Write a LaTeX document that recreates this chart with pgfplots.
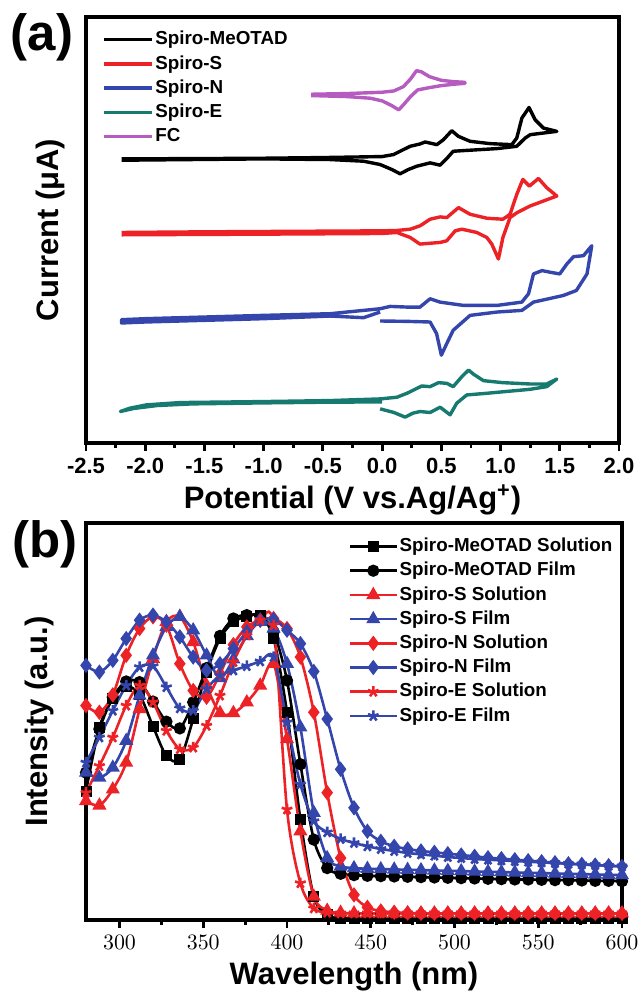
\documentclass[border=0pt]{standalone}
\usepackage{fontspec}
\setmainfont{Liberation Sans}
\usepackage{pgfplots}
\usepackage{pgfplotstable}
\pgfplotsset{compat=1.18}
\usetikzlibrary{plotmarks}

\definecolor{cvred}{RGB}{236,34,38}
\definecolor{cvblue}{RGB}{52,70,172}
\definecolor{cvteal}{RGB}{22,122,112}
\definecolor{cvpurple}{RGB}{182,92,192}

% absorption / PL spectra, arbitrary intensity units
\pgfplotstableread{
nm  msol mfilm ssol sfilm nsol nfilm esol efilm
280 385 440 355 440 640 760 380 470
288 575 570 342 425 620 740 460 545
296 660 665 390 455 672 775 545 625
304 698 712 470 535 790 840 640 700
312 672 710 630 670 870 895 700 755
320 578 652 780 790 905 910 650 758
328 490 592 890 875 880 890 565 695
336 480 572 905 905 765 845 510 632
344 600 650 830 865 685 785 515 625
352 740 752 700 790 665 745 580 690
360 840 848 618 722 735 765 670 730
368 890 900 618 778 822 810 770 745
376 905 910 650 848 875 860 850 758
384 910 907 700 890 895 895 895 772
392 840 860 765 870 900 897 880 785
400 620 715 540 765 870 865 330 590
408 300 465 265 575 785 825 110 405
416 70 240 70 320 620 742 35 295
424 15 155 28 185 380 600 22 262
432 6 138 22 160 185 450 20 242
440 4 134 20 155 75 335 20 230
448 4 132 20 153 38 265 20 220
456 4 131 20 152 27 235 20 212
464 4 130 20 151 23 220 20 206
472 4 129 20 150 21 212 20 200
480 4 128 20 149 20 206 20 196
488 4 127 20 148 20 202 20 192
496 4 126 20 147 20 198 20 188
504 4 125 20 146 20 194 20 185
512 4 124 20 145 20 190 20 182
520 4 123 20 144 20 186 20 180
528 4 122 20 143 20 183 20 178
536 4 121 20 142 20 180 20 176
544 4 121 20 141 20 177 20 174
552 4 120 20 140 20 174 20 172
560 4 119 20 139 20 171 20 170
568 4 119 20 138 20 168 20 168
576 4 118 20 137 20 166 20 166
584 4 117 20 136 20 164 20 164
592 4 117 20 135 20 162 20 162
600 4 116 20 134 20 160 20 160
}\spectra

\pgfplotsset{
  panel/.style={
    scale only axis,
    axis lines=box,
    axis line style={line width=2pt, black},
    tick align=outside,
    xtick pos=left,
    ytick=\empty,
    minor x tick num=1,
    major tick length=4pt,
    minor tick length=2.5pt,
    every tick/.style={black, line width=1.4pt},
    tick label style={font=\fontsize{11}{11}\selectfont\bfseries},
    label style={font=\fontsize{15.5}{15.5}\selectfont\bfseries},
    legend cell align=left,
    legend style={draw=none, fill=none, inner sep=0pt, row sep=1.7pt,
      font=\fontsize{9.4}{9.4}\selectfont\bfseries,
      nodes={inner sep=0.8pt, text height=7pt, text depth=1.8pt}},
  },
}

\begin{document}
\begin{tikzpicture}
\useasboundingbox (0pt,0pt) rectangle (320pt,-497pt);
\node[font=\fontsize{25.5}{25.5}\selectfont\bfseries] at (21pt,-18.5pt) {(a)};
\node[font=\fontsize{25.5}{25.5}\selectfont\bfseries] at (22.5pt,-272pt) {(b)};

\begin{axis}[panel,
  at={(43pt,-221.5pt)}, anchor=south west,
  width=266.5pt, height=213pt,
  xmin=-2.5, xmax=2.0, ymin=0, ymax=1285,
  xtick={-2.5,-2,-1.5,-1,-0.5,0,0.5,1,1.5,2},
  xticklabels={-2.5,-2.0,-1.5,-1.0,-0.5,0.0,0.5,1.0,1.5,2.0},
  xlabel={Potential (V vs.Ag/Ag\textsuperscript{+})},
  ylabel={Current (μA)},
  xlabel style={at={(axis description cs:0.5,-0.134)}, anchor=center},
  ylabel style={at={(axis description cs:-0.066,0.5)}, anchor=center},
  legend style={at={(axis description cs:0.030,0.972)}, anchor=north west},
  legend image code/.code={\draw[#1] (0pt,0pt) -- (24pt,0pt);},
  every axis plot/.append style={line width=1.7pt, line join=round},
]
\addplot[black] coordinates {
(-2.2,857) (-1.5,858) (-1.0,859) (-0.5,861) (0.0,864) (0.096,870) (0.152,880)
(0.237,895) (0.32,902) (0.363,908) (0.462,900) (0.518,915) (0.588,942) (0.644,925)
(0.743,910) (0.912,903) (1.095,900) (1.137,920) (1.18,980) (1.24,1012) (1.292,975)
(1.362,950) (1.475,940) (1.25,930) (1.208,920) (1.137,895) (0.969,888) (0.687,882)
(0.60,880) (0.546,858) (0.49,838) (0.405,845) (0.293,835) (0.222,825) (0.152,812)
(0.082,825) (-0.017,840) (-0.157,850) (-0.44,855) (-1.0,857) (-2.2,853)};
\addlegendentry{Spiro-MeOTAD}
\addplot[cvred] coordinates {
(-2.2,635) (-1.5,637) (-1.0,638) (-0.5,639) (0.0,640) (0.124,641) (0.237,645)
(0.32,655) (0.405,675) (0.49,682) (0.546,680) (0.645,710) (0.743,690) (0.884,678)
(1.02,675) (1.08,690) (1.137,750) (1.188,795) (1.244,775) (1.32,798) (1.39,770)
(1.475,745) (1.25,715) (1.14,695) (1.08,680) (1.02,620) (0.982,555) (0.926,600)
(0.884,620) (0.80,635) (0.673,645) (0.617,640) (0.546,610) (0.49,605) (0.32,600)
(0.237,620) (0.124,635) (0.0,632) (-0.5,631) (-1.0,630) (-2.2,628)};
\addlegendentry{Spiro-S}
\addplot[cvblue] coordinates {
(-0.017,368) (0.2,367) (0.405,365) (0.46,330) (0.50,265) (0.546,300) (0.60,340)
(0.743,385) (0.969,395) (1.18,400) (1.278,425) (1.53,445) (1.64,460) (1.73,510)
(1.77,595) (1.70,565) (1.616,562) (1.56,540) (1.50,510) (1.42,515) (1.35,520)
(1.278,510) (1.236,450) (1.18,425) (0.969,415) (0.687,415) (0.49,425) (0.405,435)
(0.32,410) (0.21,410) (0.068,412) (-0.017,405) (-0.157,400) (-0.44,390) (-1.0,385)
(-1.5,380) (-2.0,375) (-2.2,372) (-2.2,362) (-2.0,365) (-1.5,370) (-1.0,375)
(-0.44,383) (-0.157,378) (-0.017,395)};
\addlegendentry{Spiro-N}
\addplot[cvteal] coordinates {
(-0.017,103) (0.1,92) (0.194,78) (0.26,90) (0.32,95) (0.405,92) (0.49,108)
(0.574,85) (0.63,120) (0.715,145) (0.884,150) (1.25,162) (1.39,170) (1.475,193)
(1.39,178) (1.25,178) (1.02,182) (0.856,188) (0.77,208) (0.73,220) (0.673,200)
(0.60,170) (0.546,180) (0.476,182) (0.405,170) (0.335,172) (0.21,150) (0.124,138)
(-0.017,133) (-0.44,128) (-1.0,125) (-1.706,122) (-1.99,115) (-2.13,105) (-2.21,95)
(-2.1,104) (-1.9,113) (-1.6,118) (-1.0,121) (-0.5,123) (0.0,124)};
\addlegendentry{Spiro-E}
\addplot[cvpurple] coordinates {
(-0.6,1052) (-0.3,1054) (0.0,1058) (0.1,1062) (0.18,1075) (0.24,1098) (0.29,1123)
(0.33,1120) (0.4,1105) (0.5,1094) (0.6,1090) (0.7,1088) (0.7,1085) (0.6,1082)
(0.5,1078) (0.4,1072) (0.3,1065) (0.24,1045) (0.18,1020) (0.14,1005) (0.08,1018)
(0.0,1032) (-0.1,1040) (-0.3,1045) (-0.6,1048)};
\addlegendentry{FC}
\end{axis}

\begin{axis}[panel,
  at={(43pt,-460pt)}, anchor=south west,
  width=268pt, height=198.5pt,
  xmin=280, xmax=600, ymin=0, ymax=1185,
  xtick={300,350,...,600},
  xlabel={Wavelength (nm)},
  ylabel={Intensity (a.u.)},
  xlabel style={at={(axis description cs:0.5,-0.1436)}, anchor=center},
  ylabel style={at={(axis description cs:-0.086,0.5)}, anchor=center},
  legend style={at={(axis description cs:0.489,0.968)}, anchor=north west},
  legend image code/.code={\draw[mark repeat=2,mark phase=2,#1]
    plot coordinates {(0pt,0pt) (11.75pt,0pt) (23.5pt,0pt)};},
  every axis plot/.append style={line width=1.3pt, smooth, tension=0.5,
    mark size=2.4pt, mark options={solid}},
]
\addplot[black, mark=square*, mark size=2.1pt] table[x=nm, y=msol] {\spectra};
\addlegendentry{Spiro-MeOTAD Solution}
\addplot[black, mark=*] table[x=nm, y=mfilm] {\spectra};
\addlegendentry{Spiro-MeOTAD Film}
\addplot[cvred, mark=triangle*, mark size=2.8pt] table[x=nm, y=ssol] {\spectra};
\addlegendentry{Spiro-S Solution}
\addplot[cvblue, mark=triangle*, mark size=2.8pt] table[x=nm, y=sfilm] {\spectra};
\addlegendentry{Spiro-S Film}
\addplot[cvred, mark=diamond*, mark size=2.8pt] table[x=nm, y=nsol] {\spectra};
\addlegendentry{Spiro-N Solution}
\addplot[cvblue, mark=diamond*, mark size=2.8pt] table[x=nm, y=nfilm] {\spectra};
\addlegendentry{Spiro-N Film}
\addplot[cvred, mark=star, mark size=2.8pt] table[x=nm, y=esol] {\spectra};
\addlegendentry{Spiro-E Solution}
\addplot[cvblue, mark=star, mark size=2.8pt] table[x=nm, y=efilm] {\spectra};
\addlegendentry{Spiro-E Film}
\end{axis}
\end{tikzpicture}
\end{document}
